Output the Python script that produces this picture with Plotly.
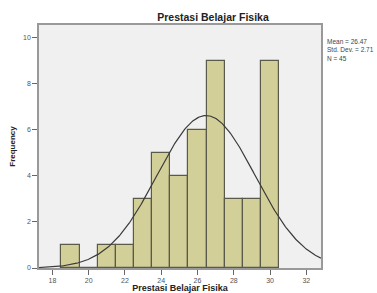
import numpy as np
import plotly.graph_objects as go

# Data
bin_centers = [19, 20, 21, 22, 23, 24, 25, 26, 27, 28, 29, 30]
frequencies = [1, 0, 1, 1, 3, 5, 4, 6, 9, 3, 3, 9]
mean_val = 26.47
sd_val = 2.71
n_val = 45
x_ticks = [18, 20, 22, 24, 26, 28, 30, 32]
y_ticks = [0, 2, 4, 6, 8, 10]

xmin, xmax = 17.26, 32.81
xs = np.linspace(xmin, xmax, 300)
ys = n_val * 1.0 / (sd_val * np.sqrt(2 * np.pi)) * np.exp(-0.5 * ((xs - mean_val) / sd_val) ** 2)

fig = go.Figure()
fig.add_trace(go.Bar(
    x=bin_centers, y=frequencies, width=1,
    marker=dict(color="#d3cf98", line=dict(color="#5a5a4a", width=1.2)),
    showlegend=False, hoverinfo="skip"))
fig.add_trace(go.Scatter(
    x=xs, y=ys, mode="lines",
    line=dict(color="#3a3a3a", width=1.2),
    showlegend=False, hoverinfo="skip"))

font_family = "Liberation Sans, Arial, sans-serif"
fig.update_layout(
    width=377, height=293,
    margin=dict(l=39, r=56, t=25, b=25, autoexpand=False),
    paper_bgcolor="white", plot_bgcolor="#f0f0f0",
    font=dict(family=font_family, size=7, color="#555555"),
    title=dict(text="<b>Prestasi Belajar Fisika</b>", x=213 / 377, xanchor="center",
               y=1 - 17 / 293, yanchor="middle",
               font=dict(family=font_family, size=10.5, color="#222222")),
    bargap=0,
    xaxis=dict(range=[xmin, xmax], tickvals=x_ticks, ticks="outside", ticklen=5,
               tickcolor="#666666", showgrid=False, zeroline=False, automargin=False,
               showline=True, linecolor="#999999", linewidth=1.5, mirror=True,
               title=dict(text="<b>Prestasi Belajar Fisika</b>", standoff=4,
                          font=dict(family=font_family, size=9, color="#222222"))),
    yaxis=dict(range=[0, 10.56], tickvals=y_ticks, ticks="outside", ticklen=5,
               tickcolor="#666666", showgrid=False, zeroline=False, automargin=False,
               showline=True, linecolor="#999999", linewidth=1.5, mirror=True,
               title=dict(text="<b>Frequency</b>", standoff=6,
                          font=dict(family=font_family, size=8, color="#222222"))),
)
fig.add_annotation(
    x=1, xref="paper", xshift=4, y=1 - 11 / 243, yref="paper",
    xanchor="left", yanchor="top", align="left", showarrow=False,
    text=f"Mean = {mean_val}<br>Std. Dev. = {sd_val}<br>N = {n_val}",
    font=dict(family=font_family, size=6.5, color="#444444"))

fig.write_html("out.html", config={"displayModeBar": False})
with open("out.html", "r", encoding="utf-8") as f:
    html = f.read()
html = html.replace("<head>", "<head><style>html,body{margin:0;padding:0;overflow:hidden;}</style>", 1)
with open("out.html", "w", encoding="utf-8") as f:
    f.write(html)
